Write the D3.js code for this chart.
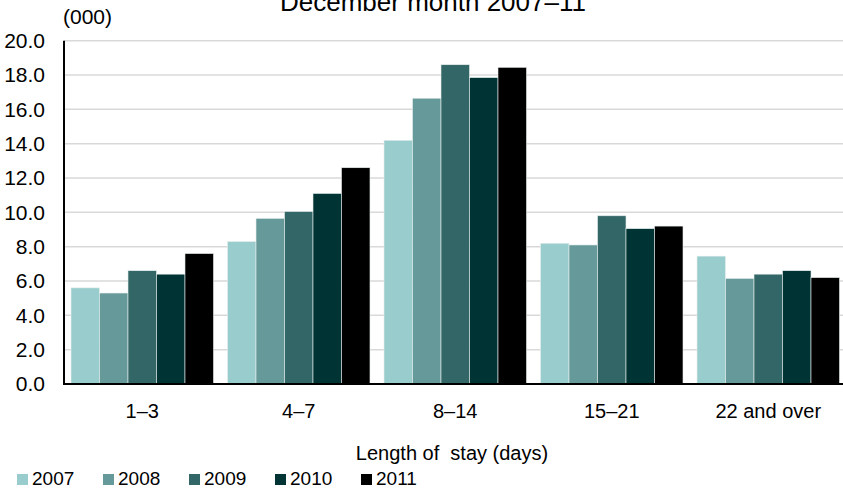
<!DOCTYPE html>
<html><head><meta charset="utf-8">
<script src="https://cdn.jsdelivr.net/npm/d3@7"></script>
<style>html,body{margin:0;padding:0;background:#fff;}svg{display:block;font-family:"Liberation Sans",Arial,sans-serif;}</style>
</head><body>
<script>
const categories = ["1–3", "4–7", "8–14", "15–21", "22 and over"];
const years = ["2007", "2008", "2009", "2010", "2011"];
const colors = ["#99CCCC", "#669999", "#336666", "#003333", "#000000"];
const v2007 = [5.6, 8.3, 14.2, 8.2, 7.45];
const v2008 = [5.3, 9.65, 16.65, 8.1, 6.15];
const v2009 = [6.6, 10.05, 18.6, 9.8, 6.4];
const v2010 = [6.4, 11.1, 17.85, 9.05, 6.6];
const v2011 = [7.6, 12.6, 18.45, 9.2, 6.2];
const series = [v2007, v2008, v2009, v2010, v2011];
const yTicks = [0, 2, 4, 6, 8, 10, 12, 14, 16, 18, 20];
const title = "December month 2007–11";
const unitLabel = "(000)";
const xTitle = "Length of  stay (days)";

const W = 843, H = 488;
const FONT = "Liberation Sans, Arial, sans-serif";
const svg = d3.select("body").append("svg").attr("width", W).attr("height", H);
const m = {left: 64, right: -3.5, top: 40.7, bottom: 104};
const x = d3.scaleBand().domain(categories).range([m.left, W - m.right]).paddingInner(0.0895).paddingOuter(0.0447);
const xs = d3.scaleBand().domain(years).range([0, x.bandwidth()]);
const y = d3.scaleLinear().domain([0, 20]).range([H - m.bottom, m.top]);

// gridlines
svg.append("g").selectAll("line").data(yTicks.filter(t => t > 0)).join("line")
  .attr("x1", m.left).attr("x2", W).attr("y1", d => y(d)).attr("y2", d => y(d))
  .attr("stroke", "#D9D9D9").attr("stroke-width", 1.5);

// bars
years.forEach((yr, i) => {
  svg.append("g").selectAll("rect").data(series[i]).join("rect")
    .attr("x", (d, j) => x(categories[j]) + xs(yr))
    .attr("y", d => y(d))
    .attr("width", xs.bandwidth())
    .attr("height", d => y(0) - y(d))
    .attr("fill", colors[i])
    .attr("stroke", "#e8efef").attr("stroke-width", 0.6);
});

// y axis
const yAxis = d3.axisLeft(y).tickValues(yTicks).tickFormat(d3.format(".1f")).tickSize(0).tickPadding(19);
const ga = svg.append("g").attr("transform", `translate(${m.left},0)`).call(yAxis);
ga.select(".domain").remove();
ga.selectAll("text").attr("font-size", 21).attr("fill", "#000").attr("font-family", FONT);
svg.append("line").attr("x1", m.left).attr("x2", m.left).attr("y1", y(20)).attr("y2", y(0) + 1)
  .attr("stroke", "#000").attr("stroke-width", 2);

// x axis
const xAxis = d3.axisBottom(x).tickSize(0);
const gx = svg.append("g").attr("transform", `translate(0,${y(0)})`).call(xAxis);
gx.select(".domain").remove();
gx.selectAll("text").attr("font-size", 20).attr("fill", "#000").attr("font-family", FONT)
  .attr("y", 418 - y(0)).attr("dy", 0);
svg.append("line").attr("x1", m.left - 1).attr("x2", W).attr("y1", y(0)).attr("y2", y(0))
  .attr("stroke", "#000").attr("stroke-width", 2);

// title
svg.append("text").attr("x", 280).attr("y", 11).attr("text-anchor", "start")
  .attr("font-size", 26).attr("fill", "#000").text(title);
svg.append("text").attr("x", 63).attr("y", 24).attr("font-size", 21).attr("fill", "#000").text(unitLabel);
svg.append("text").attr("x", 452).attr("y", 460).attr("text-anchor", "middle")
  .attr("font-size", 20).attr("fill", "#000").style("white-space", "pre").text(xTitle);

// legend
const lg = svg.append("g");
years.forEach((yr, i) => {
  const lx = 17 + i * 86;
  lg.append("rect").attr("x", lx).attr("y", 474).attr("width", 11).attr("height", 11).attr("fill", colors[i]);
  lg.append("text").attr("x", lx + 15).attr("y", 485).attr("font-size", 19).attr("fill", "#000").text(yr);
});
</script>
</body></html>
